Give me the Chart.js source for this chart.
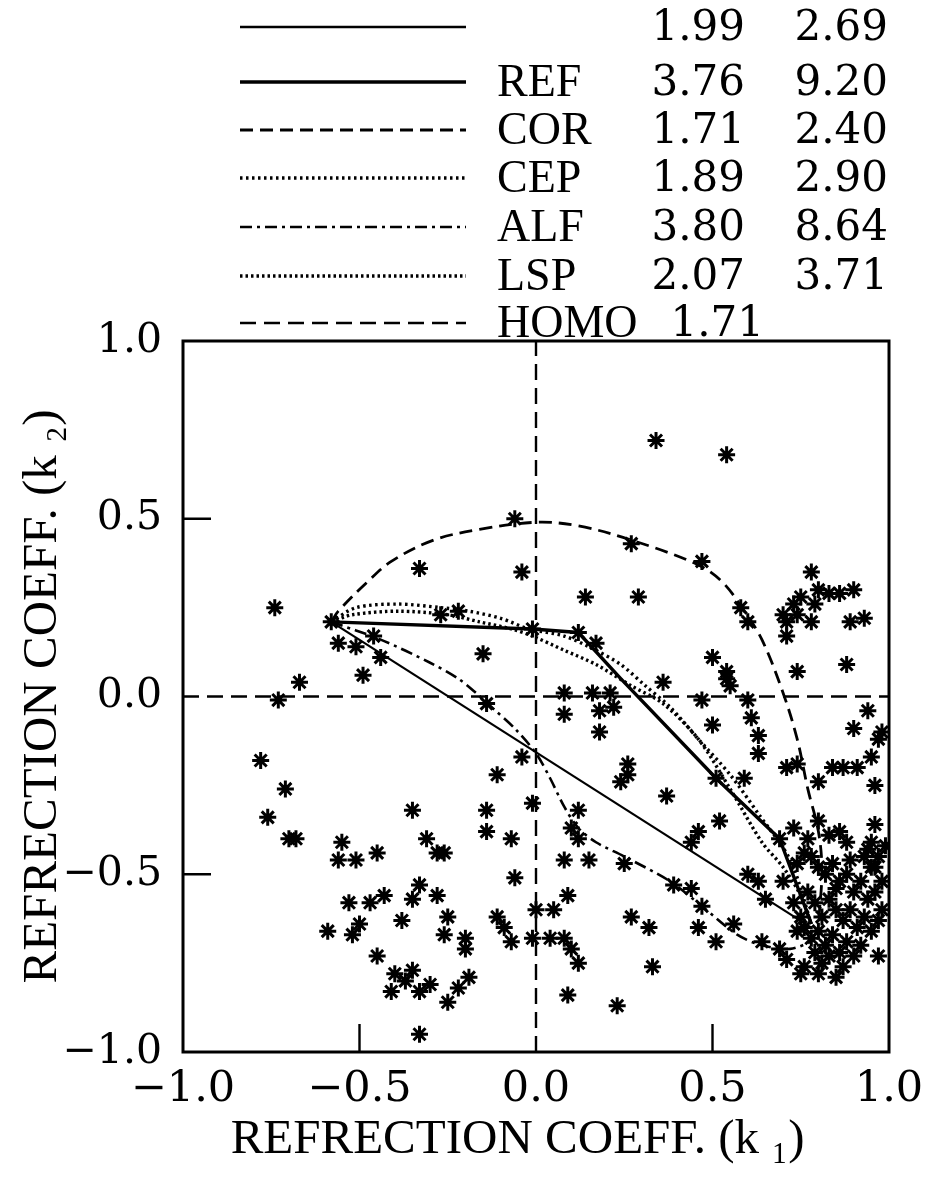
<!DOCTYPE html>
<html>
<head>
<meta charset="utf-8">
<script src="https://cdn.jsdelivr.net/npm/chart.js@4"></script>
<style>
  html, body { margin: 0; padding: 0; background: #fff; }
  #wrap { width: 950px; height: 1182px; }
</style>
</head>
<body>
<div id="wrap"><canvas id="grafico" width="950" height="1182"></canvas></div>
<script>
// Puntos medidos (asteriscos): k1 y k2
const starK1 = [
  0.34, 0.54, -0.06, -0.33, -0.04, 0.27, 0.47, -0.74, 0.14, 0.29, 0.58, 0.60,
  0.78, 0.80, 0.83, 0.86, 0.90, 0.75, 0.73, 0.70, 0.71, 0.74, 0.79, 0.78, 0.89, 0.93, 0.71, 0.88, 0.74,
  0.50, 0.54, 0.54, 0.55, 0.36,
  -0.58, -0.56, -0.51, -0.46, -0.44, -0.49, -0.67, -0.73,
  -0.78, -0.71, -0.76, -0.70, -0.68,
  -0.27, -0.22, -0.01, 0.12, 0.17, -0.15,
  0.08, 0.16, 0.21, 0.08, 0.18, 0.22, 0.18,
  -0.14, -0.04, -0.11, 0.26, 0.26, 0.24, 0.37,
  0.47, 0.60, 0.50, 0.61, 0.63, 0.63, 0.59, 0.51, 0.52, 0.46, 0.44,
  0.71, 0.74, 0.80, 0.84, 0.87, 0.91, 0.95, 0.90, 0.94, 0.97, 0.98, 0.96,
  0.12, 0.10, 0.12, 0.08, 0.15, 0.25, 0.39, 0.44, 0.47, 0.60, 0.63, 0.65, 0.56, 0.46, 0.51, 0.32, 0.27, 0.33,
  0.09, 0.00, 0.05, -0.01, 0.04, 0.08, 0.10, 0.12, 0.09, 0.23,
  0.64, 0.69, 0.71, 0.75, 0.76, 0.80, 0.85, 0.97,
  0.73, 0.69, 0.77, 0.76, 0.74, 0.70, 0.73, 0.80, 0.83, 0.86, 0.88, 0.96, 0.95, 0.94, 0.97, 0.99, 0.95,
  -0.55, -0.56, -0.51, -0.45, -0.35, -0.31, -0.28, -0.26, -0.14, -0.14, -0.07, -0.06, -0.01,
  -0.53, -0.47, -0.43, -0.35, -0.33, -0.28, -0.38, -0.25, -0.26, -0.20, -0.20, -0.11, -0.09, -0.07,
  -0.59, -0.52, -0.50, -0.45, -0.40, -0.35, -0.37, -0.41, -0.33, -0.30, -0.25, -0.22, -0.19, -0.33,
  0.78, 0.80, 0.82, 0.84, 0.86, 0.88, 0.90, 0.92, 0.94, 0.96, 0.98, 0.77, 0.79, 0.81,
  0.83, 0.85, 0.87, 0.89, 0.91, 0.93, 0.95, 0.97, 0.76, 0.78, 0.80, 0.82, 0.84, 0.86,
  0.88, 0.90, 0.92, 0.79, 0.81, 0.83, 0.87, 0.75, 0.74, 0.96, 0.98, 0.85, 0.93, 0.89
];
const starK2 = [
  0.72, 0.68, 0.50, 0.36, 0.35, 0.43, 0.38, 0.25, 0.28, 0.28, 0.25, 0.21,
  0.35, 0.30, 0.29, 0.29, 0.30, 0.28, 0.26, 0.23, 0.21, 0.23, 0.26, 0.21, 0.21, 0.22, 0.17, 0.09, 0.07,
  0.11, 0.07, 0.05, 0.03, 0.04,
  0.21, 0.15, 0.14, 0.17, 0.11, 0.06, 0.04, -0.01,
  -0.18, -0.26, -0.34, -0.40, -0.40,
  0.23, 0.24, 0.19, 0.18, 0.15, 0.12,
  0.01, 0.01, 0.01, -0.05, -0.04, -0.03, -0.10,
  -0.02, -0.17, -0.22, -0.19, -0.22, -0.24, -0.28,
  -0.01, -0.01, -0.08, -0.06, -0.11, -0.16, -0.23, -0.23, -0.35, -0.38, -0.41,
  -0.20, -0.19, -0.24, -0.20, -0.20, -0.20, -0.17, -0.09, -0.04, -0.12, -0.10, -0.25,
  -0.32, -0.37, -0.40, -0.46, -0.46, -0.47, -0.53, -0.54, -0.59, -0.50, -0.52, -0.57, -0.64, -0.65, -0.69, -0.65, -0.62, -0.76,
  -0.56, -0.60, -0.60, -0.68, -0.68, -0.68, -0.71, -0.75, -0.84, -0.87,
  -0.69, -0.71, -0.74, -0.78, -0.76, -0.78, -0.79, -0.73,
  -0.37, -0.40, -0.40, -0.44, -0.47, -0.52, -0.58, -0.35, -0.39, -0.38, -0.41, -0.36, -0.41, -0.43, -0.45, -0.42, -0.48,
  -0.41, -0.46, -0.46, -0.44, -0.32, -0.40, -0.44, -0.44, -0.32, -0.38, -0.40, -0.51, -0.30,
  -0.58, -0.58, -0.56, -0.57, -0.53, -0.56, -0.63, -0.62, -0.67, -0.68, -0.71, -0.62, -0.65, -0.69,
  -0.66, -0.67, -0.64, -0.73, -0.78, -0.77, -0.80, -0.83, -0.83, -0.81, -0.86, -0.82, -0.79, -0.95,
  -0.45, -0.48, -0.50, -0.47, -0.52, -0.50, -0.55, -0.52, -0.57, -0.55, -0.60, -0.55, -0.58, -0.62,
  -0.57, -0.60, -0.63, -0.60, -0.65, -0.62, -0.66, -0.63, -0.65, -0.68, -0.66, -0.70, -0.67, -0.72,
  -0.69, -0.73, -0.70, -0.72, -0.75, -0.73, -0.76, -0.62, -0.66, -0.48, -0.52, -0.54, -0.45, -0.46
];

// Trayectorias
const linK1 = [-0.58, 0.78];
const linK2 = [0.21, -0.65];
const refK1 = [-0.58, -0.01, 0.12, 0.24, 0.51, 0.69, 0.78];
const refK2 = [0.21, 0.19, 0.18, 0.05, -0.23, -0.40, -0.64];
const corK1 = [-0.58, -0.56, -0.48, -0.41, -0.29, -0.16, 0.00, 0.12, 0.27, 0.46, 0.53, 0.59, 0.64, 0.70, 0.74, 0.77, 0.80, 0.81, 0.80];
const corK2 = [0.21, 0.24, 0.32, 0.38, 0.44, 0.47, 0.49, 0.48, 0.44, 0.37, 0.32, 0.24, 0.16, 0.01, -0.12, -0.26, -0.38, -0.49, -0.64];
const cepK1 = [-0.58, -0.51, -0.39, -0.27, -0.19, -0.10, -0.02, 0.08, 0.17, 0.24, 0.31, 0.38, 0.46, 0.55, 0.63, 0.72, 0.78];
const cepK2 = [0.21, 0.25, 0.26, 0.25, 0.24, 0.22, 0.19, 0.17, 0.13, 0.09, 0.03, -0.03, -0.12, -0.22, -0.33, -0.46, -0.64];
const alfK1 = [-0.58, -0.44, -0.30, -0.22, -0.17, -0.12, -0.06, 0.00, 0.04, 0.08, 0.12, 0.17, 0.25, 0.38, 0.47, 0.57, 0.64, 0.72, 0.78];
const alfK2 = [0.21, 0.16, 0.095, 0.05, 0.01, -0.035, -0.09, -0.16, -0.23, -0.31, -0.37, -0.41, -0.45, -0.52, -0.59, -0.67, -0.70, -0.71, -0.69];
const lspK1 = [-0.58, -0.52, -0.39, -0.25, -0.16, -0.07, -0.01, 0.08, 0.17, 0.27, 0.36, 0.46, 0.55, 0.64, 0.70, 0.75, 0.78];
const lspK2 = [0.21, 0.23, 0.24, 0.23, 0.21, 0.19, 0.17, 0.13, 0.09, 0.03, -0.02, -0.12, -0.26, -0.41, -0.48, -0.56, -0.64];
const homoVK1 = [0, 0];
const homoVK2 = [-1, 1];
const homoHK1 = [-1, 1];
const homoHK2 = [0, 0];

// Leyenda
const leyendaNombres = ["", "REF", "COR", "CEP", "ALF", "LSP", "HOMO"];
const leyendaVal1 = ["1.99", "3.76", "1.71", "1.89", "3.80", "2.07", "1.71"];
const leyendaVal2 = ["2.69", "9.20", "2.40", "2.90", "8.64", "3.71", ""];

// Marcas interiores de los ejes
const marcasK = [-0.5, 0.5];

const LETRA = "'Liberation Serif', 'Times New Roman', serif";
const CIFRA = "'DejaVu Serif', 'Liberation Serif', serif";
const filasY = [27, 82, 130, 178, 227, 276, 323];

function par(xs, ys) {
  return xs.map((x, i) => ({ x: x, y: ys[i] }));
}
function etiqueta(v) {
  return Number(v).toFixed(1).replace("-", "\u2212");
}
function linea(datos, ancho, guion, curva) {
  return {
    data: datos,
    showLine: true,
    pointRadius: 0,
    borderColor: "#000",
    backgroundColor: "#000",
    borderWidth: ancho,
    borderDash: guion,
    tension: curva
  };
}

const datasets = [
  {
    data: par(starK1, starK2),
    showLine: false,
    pointStyle: "star",
    pointRadius: 8.5,
    borderColor: "#000",
    backgroundColor: "#000",
    borderWidth: 3
  },
  linea(par(linK1, linK2), 2.2, [], 0),
  linea(par(refK1, refK2), 3.4, [], 0),
  linea(par(corK1, corK2), 2.8, [13, 7], 0.35),
  linea(par(cepK1, cepK2), 3.4, [2.5, 3.5], 0.3),
  linea(par(alfK1, alfK2), 2.6, [12, 5, 3, 5], 0.3),
  linea(par(lspK1, lspK2), 3.4, [2.5, 3], 0.3),
  linea(par(homoVK1, homoVK2), 2.4, [16, 8], 0),
  linea(par(homoHK1, homoHK2), 2.4, [16, 8], 0)
];

// Marco y marcas de los ejes
const marco = {
  id: "marco",
  afterDraw(chart) {
    const { ctx, chartArea: a, scales } = chart;
    ctx.save();
    ctx.strokeStyle = "#000";
    ctx.setLineDash([]);
    ctx.lineWidth = 3;
    ctx.strokeRect(a.left, a.top, a.right - a.left, a.bottom - a.top);
    ctx.lineWidth = 2.4;
    marcasK.forEach((v) => {
      const px = scales.x.getPixelForValue(v);
      const py = scales.y.getPixelForValue(v);
      ctx.beginPath();
      ctx.moveTo(px, a.bottom);
      ctx.lineTo(px, a.bottom - 28);
      ctx.moveTo(a.left, py);
      ctx.lineTo(a.left + 28, py);
      ctx.stroke();
    });
    ctx.restore();
  }
};

// Leyenda de la parte superior
const leyenda = {
  id: "leyenda",
  afterDraw(chart) {
    const ctx = chart.ctx;
    ctx.save();
    filasY.forEach((yy, i) => {
      const ds = chart.data.datasets[i + 1];
      ctx.strokeStyle = "#000";
      ctx.lineWidth = Math.max(ds.borderWidth, 2.6);
      ctx.setLineDash(ds.borderDash);
      ctx.beginPath();
      ctx.moveTo(240, yy);
      ctx.lineTo(466, yy);
      ctx.stroke();
      ctx.setLineDash([]);
      ctx.fillStyle = "#000";
      ctx.textBaseline = "middle";
      ctx.textAlign = "left";
      ctx.font = "46px " + LETRA;
      ctx.fillText(leyendaNombres[i], 497, yy + 2);
      ctx.textAlign = "right";
      ctx.font = "42px " + CIFRA;
      ctx.fillText(leyendaVal1[i], i === 6 ? 764 : 745, yy + 2);
      ctx.fillText(leyendaVal2[i], 888, yy + 2);
    });
    ctx.restore();
  }
};

const fuenteTickX = { family: CIFRA, size: 43 };
const fuenteTickY = { family: CIFRA, size: 41 };
const fuenteTitulo = { family: LETRA, size: 49 };

new Chart(document.getElementById("grafico").getContext("2d"), {
  type: "scatter",
  data: { datasets: datasets },
  options: {
    responsive: false,
    animation: false,
    layout: { padding: { top: 341, right: 61, bottom: 0, left: 0 } },
    plugins: {
      legend: { display: false },
      tooltip: { enabled: false }
    },
    scales: {
      x: {
        type: "linear",
        min: -1,
        max: 1,
        grid: { display: false, drawTicks: false },
        border: { display: false },
        ticks: {
          stepSize: 0.5,
          autoSkip: false,
          maxRotation: 0,
          color: "#000",
          font: fuenteTickX,
          padding: 12,
          callback: (v) => etiqueta(v)
        },
        title: {
          display: true,
          text: "REFRECTION COEFF. (k \u2081)   ",
          color: "#000",
          font: fuenteTitulo,
          padding: { top: 0, bottom: 12 }
        },
        afterFit(s) { s.height = 130; }
      },
      y: {
        type: "linear",
        min: -1,
        max: 1,
        grid: { display: false, drawTicks: false },
        border: { display: false },
        ticks: {
          stepSize: 0.5,
          autoSkip: false,
          color: "#000",
          font: fuenteTickY,
          padding: 21,
          callback: (v) => etiqueta(v)
        },
        title: {
          display: true,
          text: "REFRECTION COEFF. (k \u2082)",
          color: "#000",
          font: fuenteTitulo,
          padding: { top: 14, bottom: 0 }
        },
        afterFit(s) { s.width = 183; }
      }
    }
  },
  plugins: [marco, leyenda]
});
</script>
</body>
</html>
